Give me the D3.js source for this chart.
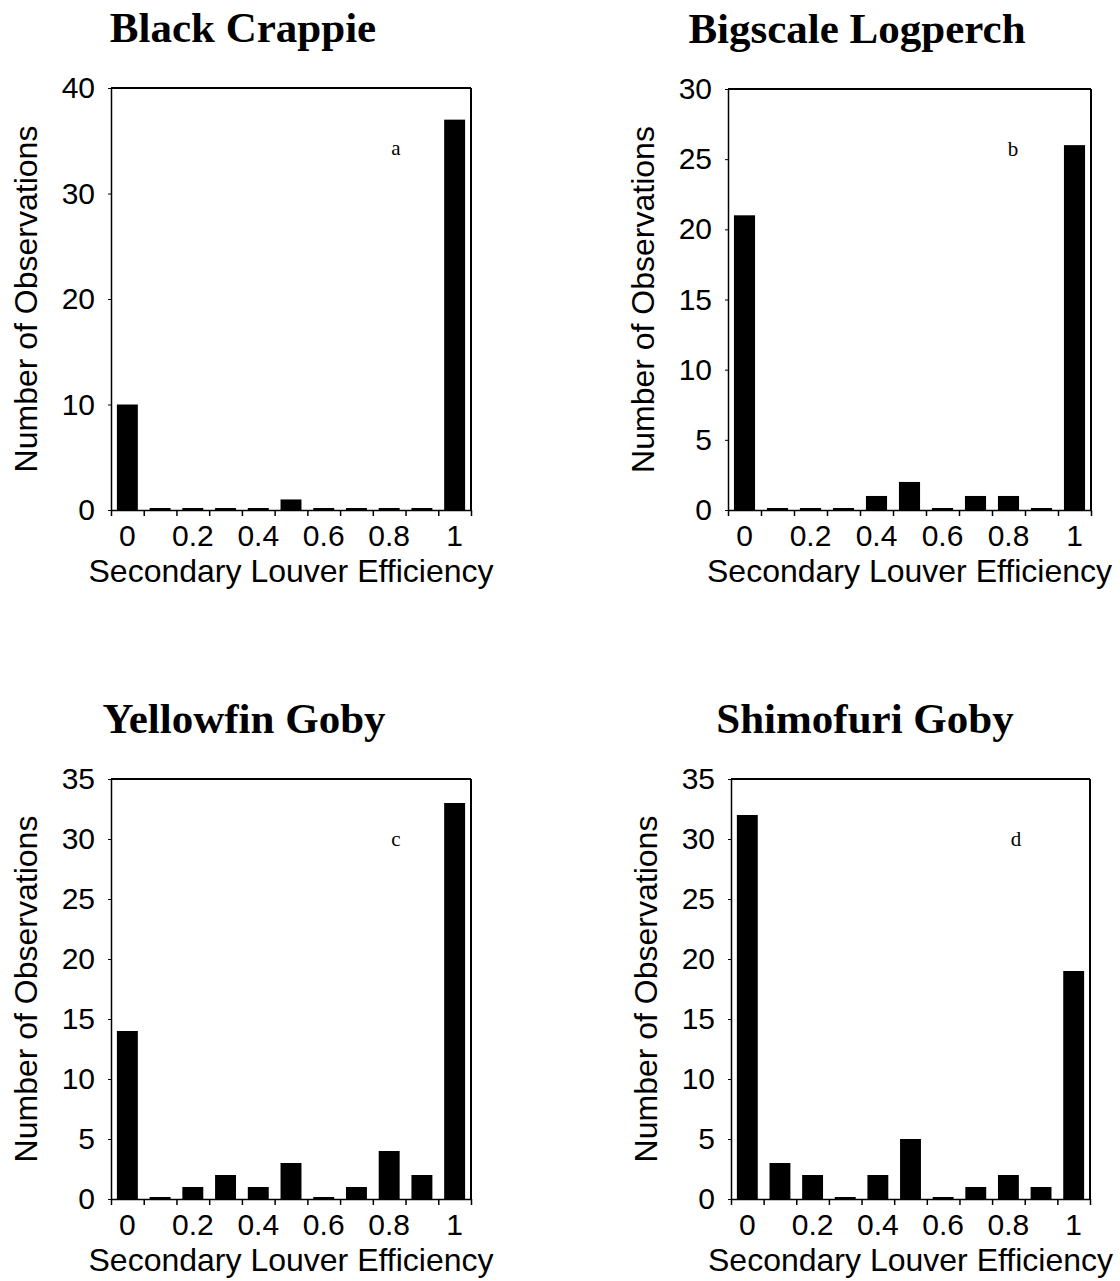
<!DOCTYPE html>
<html>
<head>
<meta charset="utf-8">
<script src="https://cdn.jsdelivr.net/npm/d3@7/dist/d3.min.js"></script>
<style>
  body { margin: 0; background: #fff; }
  .tick line { stroke: #000; }
  .domain { stroke: #000; }
</style>
</head>
<body>
<div id="chart-area"></div>
<script>
/*
*    four histograms of secondary louver efficiency
*/

// data
var bins = ["0", "0.1", "0.2", "0.3", "0.4", "0.5", "0.6", "0.7", "0.8", "0.9", "1"];
var xTickLabels = ["0", "0.2", "0.4", "0.6", "0.8", "1"];

var blackCrappie     = [10, 0, 0, 0, 0, 1, 0, 0, 0, 0, 37];
var bigscaleLogperch = [21, 0, 0, 0, 1, 2, 0, 1, 1, 0, 26];
var yellowfinGoby    = [14, 0, 1, 2, 1, 3, 0, 1, 4, 2, 33];
var shimofuriGoby    = [32, 3, 2, 0, 2, 5, 0, 1, 2, 1, 19];

var titles = ["Black Crappie", "Bigscale Logperch", "Yellowfin Goby", "Shimofuri Goby"];
var letters = ["a", "b", "c", "d"];
var yMax = [40, 30, 35, 35];
var yTicks = [
    [0, 10, 20, 30, 40],
    [0, 5, 10, 15, 20, 25, 30],
    [0, 5, 10, 15, 20, 25, 30, 35],
    [0, 5, 10, 15, 20, 25, 30, 35]
];
var series = [blackCrappie, bigscaleLogperch, yellowfinGoby, shimofuriGoby];

var xTitle = "Secondary Louver Efficiency";
var yTitle = "Number of Observations";

// panel layout (pixels)
var layout = [
    {left: 111, top: 88,  width: 360, height: 422, titleX: 243},
    {left: 728, top: 89,  width: 363, height: 421, titleX: 857},
    {left: 111, top: 779, width: 360, height: 420, titleX: 244},
    {left: 731, top: 779, width: 359, height: 420, titleX: 865}
];

var sans = "'Liberation Sans', Arial, sans-serif";
var serif = "'Liberation Serif', 'Times New Roman', serif";

var svg = d3.select("#chart-area")
    .append("svg")
        .attr("width", 1120)
        .attr("height", 1281);

layout.forEach(function(p, i) {
    var data = series[i];

    var g = svg.append("g")
        .attr("transform", "translate(" + p.left + ", " + p.top + ")");

    var x = d3.scaleBand()
        .domain(bins)
        .range([0, p.width])
        .paddingInner(0.36)
        .paddingOuter(0.18);

    // bin edges for the tick marks
    var edges = d3.scaleLinear().domain([0, bins.length]).range([0, p.width]);

    var y = d3.scaleLinear().domain([0, yMax[i]]).range([p.height, 0]);

    // frame: top and right
    g.append("line")
        .attr("x1", 0).attr("x2", p.width)
        .attr("y1", 0).attr("y2", 0)
        .attr("stroke", "#000").attr("stroke-width", 2);
    g.append("line")
        .attr("x1", p.width).attr("x2", p.width)
        .attr("y1", 0).attr("y2", p.height)
        .attr("stroke", "#000").attr("stroke-width", 2);

    // bars (zero counts still show as a thin sliver)
    g.selectAll("rect.bar")
        .data(data)
        .enter().append("rect")
            .attr("class", "bar")
            .attr("x", function(d, j) { return x(bins[j]); })
            .attr("width", x.bandwidth())
            .attr("y", function(d) { return Math.min(y(d), y(0) - 2); })
            .attr("height", function(d) { return Math.max(y(0) - y(d), 2); })
            .attr("fill", "#000");

    // left axis
    var leftAxis = d3.axisLeft(y)
        .tickValues(yTicks[i])
        .tickSize(3)
        .tickPadding(13)
        .tickSizeOuter(0);
    var ya = g.append("g")
        .attr("class", "left axis")
        .call(leftAxis);
    ya.select(".domain").attr("stroke-width", 1.5);
    ya.selectAll("text")
        .attr("font-family", sans)
        .attr("font-size", "30px")
        .attr("fill", "#000");

    // bottom axis: tick marks at bin edges
    var edgeAxis = d3.axisBottom(edges)
        .tickValues(d3.range(bins.length + 1))
        .tickSize(6)
        .tickSizeOuter(0)
        .tickFormat("");
    var xa = g.append("g")
        .attr("class", "bottom axis")
        .attr("transform", "translate(0, " + p.height + ")")
        .call(edgeAxis);
    xa.select(".domain").attr("stroke-width", 1.5);
    xa.selectAll(".tick line").attr("stroke-width", 1.5);

    // bottom axis labels at bin centres
    var labelAxis = d3.axisBottom(x)
        .tickValues(xTickLabels)
        .tickSize(0)
        .tickPadding(15);
    var xl = g.append("g")
        .attr("transform", "translate(0, " + p.height + ")")
        .call(labelAxis);
    xl.select(".domain").remove();
    xl.selectAll("text")
        .attr("font-family", sans)
        .attr("font-size", "30px")
        .attr("fill", "#000");

    // axis titles
    g.append("text")
        .attr("x", p.width / 2)
        .attr("y", p.height + 72)
        .attr("text-anchor", "middle")
        .attr("font-family", sans)
        .attr("font-size", "32px")
        .text(xTitle);

    g.append("text")
        .attr("transform", "rotate(-90)")
        .attr("x", -p.height / 2)
        .attr("y", -74)
        .attr("text-anchor", "middle")
        .attr("font-family", sans)
        .attr("font-size", "32px")
        .text(yTitle);

    // panel letter
    g.append("text")
        .attr("x", 285)
        .attr("y", 67)
        .attr("text-anchor", "middle")
        .attr("font-family", serif)
        .attr("font-size", "21px")
        .text(letters[i]);

    // title
    svg.append("text")
        .attr("x", p.titleX)
        .attr("y", p.top - 46)
        .attr("text-anchor", "middle")
        .attr("font-family", serif)
        .attr("font-weight", "bold")
        .attr("font-size", "43px")
        .text(titles[i]);
});
</script>
</body>
</html>
